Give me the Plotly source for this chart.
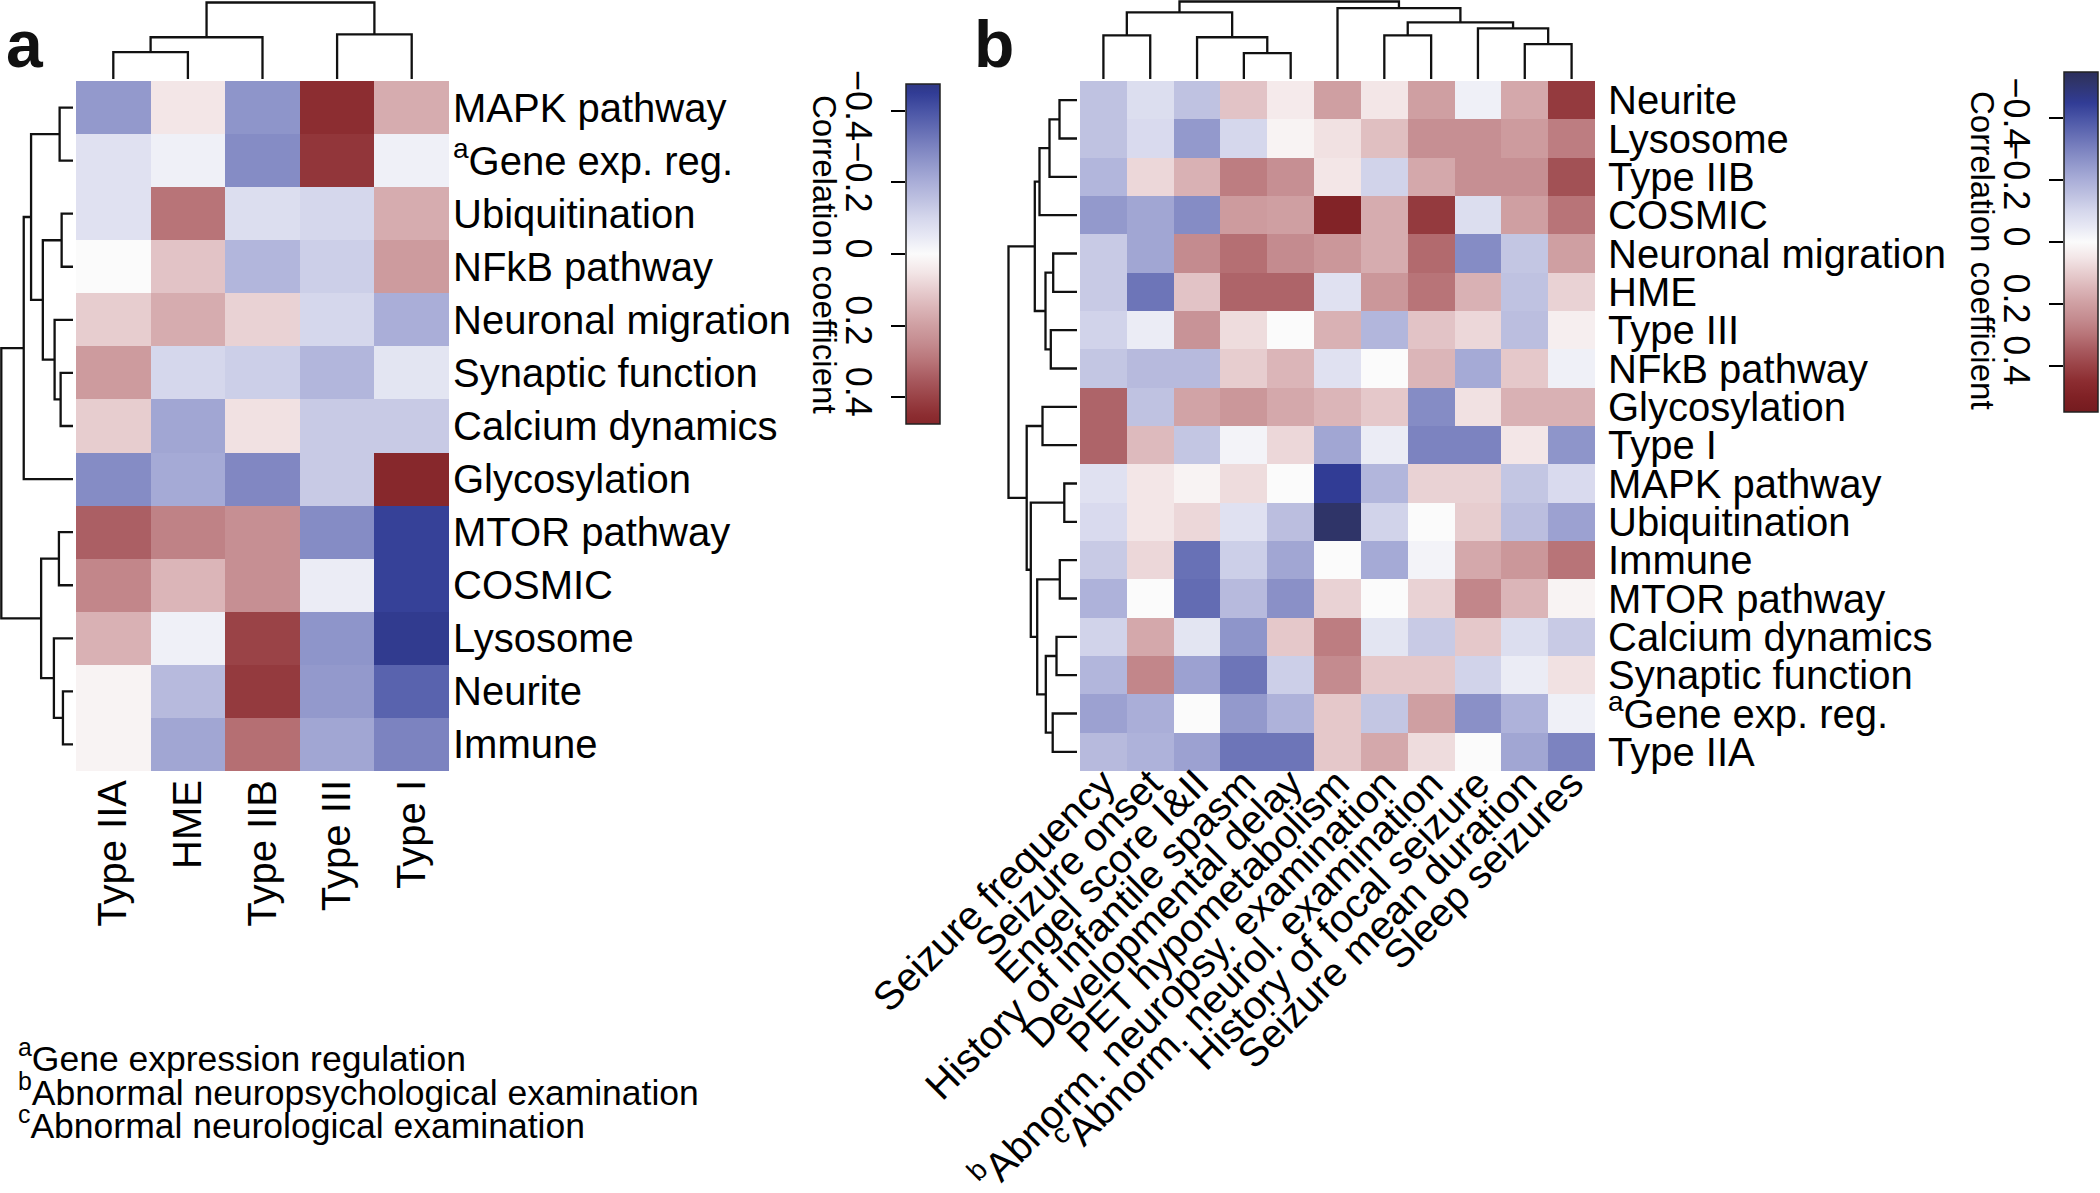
import plotly.graph_objects as go

W, H = 2100, 1193
FONT = "Liberation Sans, Arial, sans-serif"

# ---------------- Panel a data ----------------
rows_a = ["MAPK pathway", "<sup>a</sup>Gene exp. reg.", "Ubiquitination", "NFkB pathway",
          "Neuronal migration", "Synaptic function", "Calcium dynamics", "Glycosylation",
          "MTOR pathway", "COSMIC", "Lysosome", "Neurite", "Immune"]
cols_a = ["Type IIA", "HME", "Type IIB", "Type III", "Type I"]

a_type_IIA = [-0.25, -0.07, -0.07, 0.00, 0.10, 0.21, 0.10, -0.28, 0.34, 0.26, 0.16, 0.02, 0.02]
a_HME = [0.05, -0.03, 0.30, 0.12, 0.17, -0.10, -0.22, -0.21, 0.27, 0.15, -0.03, -0.17, -0.22]
a_type_IIB = [-0.26, -0.28, -0.08, -0.18, 0.09, -0.12, 0.06, -0.29, 0.24, 0.24, 0.40, 0.42, 0.31]
a_type_III = [0.45, 0.43, -0.10, -0.12, -0.10, -0.18, -0.13, -0.13, -0.28, -0.04, -0.26, -0.25, -0.22]
a_type_I = [0.17, -0.03, 0.17, 0.21, -0.20, -0.06, -0.13, 0.47, -0.44, -0.44, -0.46, -0.37, -0.30]

# dendrograms of panel a (scipy-like linkage: left id, right id, merge height)
a_col_left = [0, 5, 3, 6]
a_col_right = [1, 2, 4, 7]
a_col_height = [27, 42, 45, 77]

a_row_left = [0, 2, 5, 4, 14, 13, 18, 8, 11, 10, 20, 19]
a_row_right = [1, 3, 6, 15, 16, 17, 7, 9, 12, 21, 22, 23]
a_row_height = [13.3, 11.3, 12.3, 18.3, 30, 41.7, 49, 14, 10, 19, 31.7, 71.3]

# ---------------- Panel b data ----------------
rows_b = ["Neurite", "Lysosome", "Type IIB", "COSMIC", "Neuronal migration", "HME", "Type III",
          "NFkB pathway", "Glycosylation", "Type I", "MAPK pathway", "Ubiquitination", "Immune",
          "MTOR pathway", "Calcium dynamics", "Synaptic function", "<sup>a</sup>Gene exp. reg.",
          "Type IIA"]
cols_b = ["Seizure frequency", "Seizure onset", "Engel score I&II", "History of infantile spasm",
          "Developmental delay", "PET hypometabolism", "<sup>b</sup>Abnorm. neuropsy. examination",
          "<sup>c</sup>Abnorm. neurol. examination", "History of focal seizure",
          "Seizure mean duration", "Sleep seizures"]

b_seizure_frequency = [-0.15, -0.15, -0.18, -0.25, -0.13, -0.13, -0.11, -0.14, 0.33, 0.33, -0.07, -0.09, -0.13, -0.19, -0.11, -0.18, -0.23, -0.17]
b_seizure_onset = [-0.08, -0.09, 0.08, -0.22, -0.22, -0.33, -0.04, -0.17, -0.15, 0.14, 0.05, 0.05, 0.08, 0.00, 0.18, 0.26, -0.20, -0.19]
b_engel = [-0.15, -0.25, 0.16, -0.28, 0.25, 0.12, 0.23, -0.17, 0.19, -0.14, 0.02, 0.08, -0.34, -0.35, -0.06, -0.23, 0.00, -0.23]
b_infantile_spasm = [0.12, -0.10, 0.28, 0.21, 0.31, 0.33, 0.07, 0.10, 0.22, -0.02, 0.07, -0.07, -0.12, -0.17, -0.26, -0.33, -0.25, -0.33]
b_dev_delay = [0.04, 0.02, 0.24, 0.20, 0.25, 0.33, 0.00, 0.15, 0.18, 0.08, 0.00, -0.16, -0.22, -0.27, 0.11, -0.12, -0.19, -0.33]
b_pet = [0.20, 0.06, 0.05, 0.49, 0.22, -0.07, 0.16, -0.07, 0.15, -0.22, -0.45, -0.52, 0.00, 0.09, 0.28, 0.25, 0.11, 0.11]
b_neuropsy = [0.05, 0.13, -0.11, 0.17, 0.17, 0.22, -0.18, 0.00, 0.11, -0.04, -0.18, -0.11, -0.21, 0.00, -0.06, 0.11, -0.14, 0.18]
b_neurol = [0.20, 0.24, 0.18, 0.42, 0.32, 0.30, 0.12, 0.15, -0.28, -0.30, 0.09, 0.00, -0.02, 0.09, -0.13, 0.11, 0.20, 0.07]
b_focal = [-0.03, 0.24, 0.24, -0.08, -0.28, 0.16, 0.08, -0.21, 0.06, -0.30, 0.09, 0.10, 0.18, 0.26, 0.11, -0.11, -0.27, 0.00]
b_mean_duration = [0.18, 0.21, 0.24, 0.20, -0.14, -0.15, -0.16, 0.11, 0.16, 0.05, -0.14, -0.16, 0.22, 0.15, -0.08, -0.04, -0.19, -0.22]
b_sleep = [0.42, 0.28, 0.37, 0.30, 0.20, 0.09, 0.03, -0.03, 0.16, -0.26, -0.09, -0.23, 0.30, 0.02, -0.13, 0.06, -0.03, -0.30]

b_col_left = [0, 3, 2, 11, 6, 9, 8, 15, 5, 14]
b_col_right = [1, 4, 12, 13, 7, 10, 16, 17, 18, 19]
b_col_height = [44, 26, 42, 67, 44, 35, 51, 57, 71.3, 78]

b_row_left = [0, 18, 19, 4, 6, 21, 20, 8, 10, 12, 14, 16, 28, 27, 26, 25, 24]
b_row_right = [1, 2, 3, 5, 7, 22, 23, 9, 11, 13, 15, 17, 29, 30, 31, 32, 33]
b_row_height = [17.5, 27.5, 37.5, 23.8, 26.2, 31.5, 42.2, 34.5, 12.7, 17.2, 20.5, 24.3, 31.2, 39.8, 46.2, 50.3, 68.5]

# colour scale (value -> colour) and colour-bar ranges
scale_vals = [-0.55, -0.52, -0.45, -0.40, -0.35, -0.30, -0.25, -0.20, -0.15, -0.10, -0.05, 0.0,
              0.05, 0.10, 0.15, 0.20, 0.25, 0.30, 0.35, 0.40, 0.45, 0.50, 0.55]
scale_cols = ["#2b2e5c", "#2f3468", "#313c95", "#4a55a6", "#636cb3", "#7c83c0", "#9399cc",
              "#aaaed8", "#bfc2e1", "#d5d7ec", "#e7e8f4", "#fbfbfb", "#f3e6e7", "#e7cdcf",
              "#dbb5b8", "#cf9fa2", "#c48b8f", "#b87478", "#a85a5f", "#9a4347", "#8c2d31",
              "#802125", "#741b1f"]
range_a = 0.475
range_b = 0.55
cbar_ticks = [-0.4, -0.2, 0, 0.2, 0.4]
cbar_ticktext = ["\u22120.4", "\u22120.2", "0", "0.2", "0.4"]


def hex2rgb(h):
    h = h.lstrip("#")
    return [int(h[i:i + 2], 16) for i in (0, 2, 4)]


def color_at(v):
    if v <= scale_vals[0]:
        c = hex2rgb(scale_cols[0])
    elif v >= scale_vals[-1]:
        c = hex2rgb(scale_cols[-1])
    else:
        for i in range(len(scale_vals) - 1):
            v0, v1 = scale_vals[i], scale_vals[i + 1]
            if v0 <= v <= v1:
                t = (v - v0) / (v1 - v0)
                c0, c1 = hex2rgb(scale_cols[i]), hex2rgb(scale_cols[i + 1])
                c = [c0[k] + (c1[k] - c0[k]) * t for k in range(3)]
                break
    return "rgb(%d,%d,%d)" % tuple(round(x) for x in c)


def make_scale(R):
    stops = [-R] + [v for v in scale_vals if -R < v < R] + [R]
    return [[(v + R) / (2 * R), color_at(v)] for v in stops]


def dendro(left, right, height, n):
    pos = list(range(n))
    hgt = [0.0] * n
    ps, hs = [], []
    for a, b, h in zip(left, right, height):
        ps += [pos[a], pos[a], pos[b], pos[b], None]
        hs += [hgt[a], h, h, hgt[b], None]
        pos.append((pos[a] + pos[b]) / 2)
        hgt.append(h)
    return ps, hs


def fx(px):
    return px / W


def fy(py):
    return 1 - py / H


z_a = [list(r) for r in zip(a_type_IIA, a_HME, a_type_IIB, a_type_III, a_type_I)]
z_b = [list(r) for r in zip(b_seizure_frequency, b_seizure_onset, b_engel, b_infantile_spasm,
                            b_dev_delay, b_pet, b_neuropsy, b_neurol, b_focal, b_mean_duration,
                            b_sleep)]

scale_a = make_scale(range_a)
scale_b = make_scale(range_b)

LINE = dict(color="#111111", width=2.3)
fig = go.Figure()

# heatmaps
fig.add_trace(go.Heatmap(z=z_a, x=list(range(len(cols_a))), y=list(range(len(rows_a))),
                         colorscale=scale_a, zmin=-range_a, zmax=range_a, showscale=False,
                         xaxis="x", yaxis="y"))
fig.add_trace(go.Heatmap(z=z_b, x=list(range(len(cols_b))), y=list(range(len(rows_b))),
                         colorscale=scale_b, zmin=-range_b, zmax=range_b, showscale=False,
                         xaxis="x4", yaxis="y4"))

# dendrograms
p, h = dendro(a_col_left, a_col_right, a_col_height, len(cols_a))
fig.add_trace(go.Scatter(x=p, y=h, mode="lines", line=LINE, xaxis="x2", yaxis="y2",
                         hoverinfo="skip", showlegend=False))
p, h = dendro(a_row_left, a_row_right, a_row_height, len(rows_a))
fig.add_trace(go.Scatter(x=h, y=p, mode="lines", line=LINE, xaxis="x3", yaxis="y3",
                         hoverinfo="skip", showlegend=False))
p, h = dendro(b_col_left, b_col_right, b_col_height, len(cols_b))
fig.add_trace(go.Scatter(x=p, y=h, mode="lines", line=LINE, xaxis="x5", yaxis="y5",
                         hoverinfo="skip", showlegend=False))
p, h = dendro(b_row_left, b_row_right, b_row_height, len(rows_b))
fig.add_trace(go.Scatter(x=h, y=p, mode="lines", line=LINE, xaxis="x6", yaxis="y6",
                         hoverinfo="skip", showlegend=False))


# colour bars (negative at top, as in the reference)
def cbar_trace(R, scale, xa, ya, x0, ytop, ybot):
    return go.Scatter(x=[None], y=[None], mode="markers", xaxis=xa, yaxis=ya,
                      hoverinfo="skip", showlegend=False,
                      marker=dict(color=[0], cmin=-R, cmax=R, colorscale=scale,
                                  reversescale=True, showscale=True,
                                  colorbar=dict(x=fx(x0), xanchor="left", y=fy(ybot),
                                                yanchor="bottom", len=(ybot - ytop) / H,
                                                lenmode="fraction", thickness=34,
                                                thicknessmode="pixels", xpad=0, ypad=0,
                                                outlinewidth=1.5, outlinecolor="#222",
                                                showticklabels=False, ticks="")))


fig.add_trace(cbar_trace(range_a, scale_a, "x7", "y7", 906, 84, 424))
fig.add_trace(cbar_trace(range_b, scale_b, "x8", "y8", 2064, 72, 412))

TICKFONT = dict(family=FONT, size=40, color="#000")
CBFONT = dict(family=FONT, size=36, color="#000")
hid = dict(visible=False, showgrid=False, zeroline=False, fixedrange=True, automargin=False)
base = dict(showgrid=False, zeroline=False, showline=False, automargin=False, fixedrange=True)

fig.update_layout(
    template="none",
    width=W, height=H, margin=dict(l=0, r=0, t=0, b=0, pad=0, autoexpand=False),
    paper_bgcolor="white", plot_bgcolor="white", showlegend=False,
    font=dict(family=FONT, color="#000"),
    xaxis=dict(domain=[fx(76), fx(449)], range=[-0.5, 4.5], anchor="y",
               tickvals=list(range(len(cols_a))), ticktext=cols_a, tickangle=-90,
               tickfont=TICKFONT, ticks="", **base),
    yaxis=dict(domain=[fy(771), fy(81)], range=[12.5, -0.5], anchor="x", side="right",
               tickvals=list(range(len(rows_a))), ticktext=rows_a, tickfont=TICKFONT,
               ticks="", ticklabelstandoff=3, **base),
    xaxis2=dict(domain=[fx(76), fx(449)], range=[-0.5, 4.5], anchor="y2", **hid),
    yaxis2=dict(domain=[fy(79), 1.0], range=[0, 79.5], anchor="x2", **hid),
    xaxis3=dict(domain=[0.0, fx(73)], range=[72.6, 0], anchor="y3", **hid),
    yaxis3=dict(domain=[fy(771), fy(81)], range=[12.5, -0.5], anchor="x3", **hid),
    xaxis4=dict(domain=[fx(1080), fx(1595)], range=[-0.5, 10.5], anchor="y4",
                tickvals=list(range(len(cols_b))), ticktext=cols_b, tickangle=-45,
                tickfont=TICKFONT, ticks="", ticklabelstandoff=-20, **base),
    yaxis4=dict(domain=[fy(771), fy(81)], range=[17.5, -0.5], anchor="x4", side="right",
                tickvals=list(range(len(rows_b))), ticktext=rows_b, tickfont=TICKFONT,
                ticks="", ticklabelstandoff=12, **base),
    xaxis5=dict(domain=[fx(1080), fx(1595)], range=[-0.5, 10.5], anchor="y5", **hid),
    yaxis5=dict(domain=[fy(79), 1.0], range=[0, 79.5], anchor="x5", **hid),
    xaxis6=dict(domain=[fx(1005), fx(1077)], range=[72, 0], anchor="y6", **hid),
    yaxis6=dict(domain=[fy(771), fy(81)], range=[17.5, -0.5], anchor="x6", **hid),
    xaxis7=dict(domain=[fx(906), fx(940)], range=[0, 1], anchor="y7", **hid),
    yaxis7=dict(domain=[fy(424), fy(84)], range=[range_a, -range_a], anchor="x7", side="left",
                tickvals=cbar_ticks, ticktext=cbar_ticktext, ticks="outside", ticklen=14,
                tickwidth=2, tickcolor="#000", tickangle=90, tickfont=CBFONT,
                ticklabelstandoff=2, **base),
    xaxis8=dict(domain=[fx(2064), fx(2098)], range=[0, 1], anchor="y8", **hid),
    yaxis8=dict(domain=[fy(412), fy(72)], range=[range_b, -range_b], anchor="x8", side="left",
                tickvals=cbar_ticks, ticktext=cbar_ticktext, ticks="outside", ticklen=14,
                tickwidth=2, tickcolor="#000", tickangle=90, tickfont=CBFONT,
                ticklabelstandoff=2, **base),
)

ann = []
ann.append(dict(text="<b>a</b>", x=fx(4), y=fy(44), xanchor="left", yanchor="middle",
                font=dict(size=66, family=FONT, color="#111")))
ann.append(dict(text="<b>b</b>", x=fx(972), y=fy(44), xanchor="left", yanchor="middle",
                font=dict(size=66, family=FONT, color="#111")))
ann.append(dict(text="Correlation coefficient", x=fx(825), y=fy(254), textangle=90,
                xanchor="center", yanchor="middle", font=dict(size=33, family=FONT, color="#000")))
ann.append(dict(text="Correlation coefficient", x=fx(1983), y=fy(250), textangle=90,
                xanchor="center", yanchor="middle", font=dict(size=33, family=FONT, color="#000")))
foot = ["<sup>a</sup>Gene expression regulation",
        "<sup>b</sup>Abnormal neuropsychological examination",
        "<sup>c</sup>Abnormal neurological examination"]
for t, yy in zip(foot, [1056, 1090, 1123]):
    ann.append(dict(text=t, x=fx(16), y=fy(yy), xanchor="left", yanchor="middle",
                    font=dict(size=35.5, family=FONT, color="#000")))
for a in ann:
    a.update(xref="paper", yref="paper", showarrow=False)
fig.update_layout(annotations=ann)

fig.write_html("out.html", config={"displayModeBar": False},
               post_script="document.body.style.margin='0px';"
                           "document.body.style.overflow='hidden';")
